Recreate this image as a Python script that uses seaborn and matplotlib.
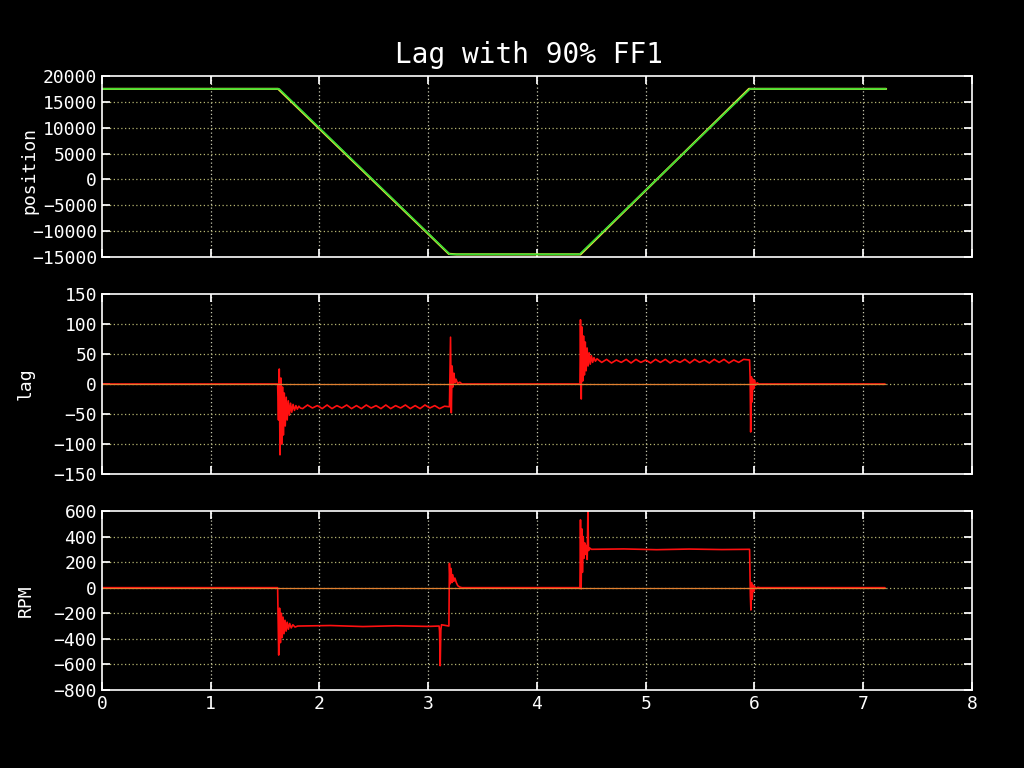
import matplotlib
matplotlib.use("Agg")
import matplotlib.pyplot as plt
import seaborn as sns

# ── Data ──────────────────────────────────────────────────────────────────────
pos_t = [0.0, 1.63, 3.20, 4.39, 5.96, 7.21]
pos_v = [17500, 17500, -14500, -14500, 17500, 17500]

cmd_t = [0.0, 1.62, 3.19, 3.26, 4.40, 5.95, 7.21]
cmd_v = [17500, 17500, -14400, -14500, -14500, 17500, 17500]

lag_t = [
    0.0, 1.615, 1.623, 1.630, 1.637, 1.645, 1.652, 1.660, 1.668, 1.676, 1.685,
    1.694, 1.703, 1.713, 1.723, 1.734, 1.745, 1.757, 1.770, 1.783, 1.796, 1.810,
    1.825,
    1.845, 1.890, 1.935, 1.980, 2.025, 2.070, 2.115, 2.160, 2.205, 2.250,
    2.295, 2.340, 2.385, 2.430, 2.475, 2.520, 2.565, 2.610, 2.655, 2.700, 2.745,
    2.790, 2.835, 2.880, 2.925, 2.970, 3.015, 3.060, 3.105, 3.150, 3.195,
    3.205, 3.212, 3.220, 3.228, 3.236, 3.245, 3.255, 3.270, 3.290, 3.310,
    4.395, 4.400, 4.407, 4.414, 4.421, 4.428, 4.436, 4.444, 4.452, 4.461, 4.470,
    4.480, 4.490, 4.501, 4.512, 4.524, 4.537, 4.552,
    4.595, 4.640, 4.685, 4.730, 4.775, 4.820, 4.865, 4.910, 4.955, 5.000,
    5.045, 5.090, 5.135, 5.180, 5.225, 5.270, 5.315, 5.360, 5.405, 5.450, 5.495,
    5.540, 5.585, 5.630, 5.675, 5.720, 5.765, 5.810, 5.855, 5.900, 5.955,
    5.960, 5.965, 5.972, 5.978, 5.985, 5.992, 6.000, 6.010, 6.025, 6.040, 7.20,
]
lag_v = [
    0, 0, -60, 25, -118, 10, -100, -5, -85, -15, -70,
    -22, -60, -28, -52, -32, -47, -34, -44, -36, -42, -37,
    -40,
    -41, -35, -40, -36, -41, -35, -41, -36, -40, -35,
    -41, -36, -41, -35, -40, -36, -41, -35, -41, -36, -40,
    -35, -41, -36, -41, -35, -40, -36, -41, -37, -38,
    78, -48, 30, -5, 18, 2, 8, 1, 3, 0,
    0, 107, -25, 95, 5, 80, 15, 70, 22, 60, 30,
    52, 33, 47, 36, 44, 38, 42,
    36, 41, 35, 40, 36, 41, 35, 41, 36, 40,
    35, 41, 36, 41, 35, 40, 36, 41, 35, 41, 36,
    40, 35, 41, 36, 41, 35, 40, 36, 41, 40,
    10, -80, 12, -30, 8, -8, 6, -2, 2, 0, 0,
]

rpm_t = [
    0.0, 1.615, 1.625, 1.633, 1.641, 1.649, 1.657, 1.665, 1.674, 1.683, 1.693,
    1.703, 1.714, 1.726, 1.740, 1.755, 1.775, 1.800,
    2.100, 2.400, 2.700, 3.000, 3.100, 3.104, 3.110, 3.116, 3.122, 3.190,
    3.195, 3.202, 3.210, 3.218, 3.226, 3.235, 3.245, 3.258, 3.272, 3.290, 3.310,
    4.395, 4.400, 4.406, 4.412, 4.418, 4.425, 4.432, 4.440, 4.447, 4.455, 4.462,
    4.468, 4.474, 4.485, 4.500,
    4.800, 5.100, 5.400, 5.700, 5.955,
    5.962, 5.967, 5.973, 5.979, 5.985, 5.992, 6.000, 6.015, 6.030, 6.050, 7.20,
]
rpm_v = [
    0, 0, -527, -160, -430, -200, -390, -230, -360, -255, -340,
    -270, -325, -280, -315, -290, -308, -300,
    -296, -304, -298, -303, -300, -340, -610, -330, -290, -300,
    190, 30, 150, 40, 100, 50, 75, 40, 15, 5, 0,
    0, 530, -10, 460, 120, 400, 230, 350, 260, 330, 220,
    600, 290, 310, 300,
    303, 297, 302, 298, 300,
    -60, -175, 40, -90, 20, -30, 10, -8, 3, 0, 0,
]

zero_t = [0.0, 7.2]
zero_v = [0, 0]

x_ticks = [0, 1, 2, 3, 4, 5, 6, 7, 8]
pos_ticks = [-15000, -10000, -5000, 0, 5000, 10000, 15000, 20000]
lag_ticks = [-150, -100, -50, 0, 50, 100, 150]
rpm_ticks = [-800, -600, -400, -200, 0, 200, 400, 600]

# ── Style ─────────────────────────────────────────────────────────────────────
sns.set_theme(style="ticks")
plt.rcParams.update({
    "figure.facecolor": "black",
    "axes.facecolor": "black",
    "axes.edgecolor": "white",
    "axes.linewidth": 1.2,
    "text.color": "white",
    "xtick.color": "white",
    "ytick.color": "white",
    "xtick.direction": "in",
    "ytick.direction": "in",
    "xtick.top": True,
    "ytick.right": True,
    "xtick.major.size": 6,
    "ytick.major.size": 6,
    "xtick.labelsize": 13,
    "ytick.labelsize": 13,
})
plt.rcParams["font.family"] = ["DejaVu Sans Mono", "DejaVu Sans"]

fig = plt.figure(figsize=(10.24, 7.68), dpi=100)
ax_pos = fig.add_axes([0.0996, 0.6654, 0.8496, 0.2357])
ax_lag = fig.add_axes([0.0996, 0.3828, 0.8496, 0.2344])
ax_rpm = fig.add_axes([0.0996, 0.1016, 0.8496, 0.2331])


def style_axis(ax, yticks, show_x):
    ax.set_xlim(0, 8)
    ax.set_ylim(yticks[0], yticks[-1])
    ax.set_xticks(x_ticks)
    ax.set_yticks(yticks)
    for x in x_ticks[1:-1]:
        ax.axvline(x, color="#c8c8b0", lw=0.9, ls=(0, (1, 2)), zorder=0)
    for y in yticks[1:-1]:
        ax.axhline(y, color="#b4b470", lw=0.9, ls=(0, (1, 2)), zorder=0)
    if not show_x:
        ax.set_xticklabels([])
    ax.set_xlabel("")
    ax.set_ylabel("")
    for s in ax.spines.values():
        s.set_color("white")
        s.set_visible(True)


sns.lineplot(x=cmd_t, y=cmd_v, ax=ax_pos, color="#e0e040", lw=1.6,
             sort=False, estimator=None)
sns.lineplot(x=pos_t, y=pos_v, ax=ax_pos, color="#33dd33", lw=1.1,
             sort=False, estimator=None)
style_axis(ax_pos, pos_ticks, False)

sns.lineplot(x=lag_t, y=lag_v, ax=ax_lag, color="#ff1010", lw=1.2,
             sort=False, estimator=None)
sns.lineplot(x=zero_t, y=zero_v, ax=ax_lag, color="#e08030", lw=0.9,
             sort=False, estimator=None)
style_axis(ax_lag, lag_ticks, False)

sns.lineplot(x=rpm_t, y=rpm_v, ax=ax_rpm, color="#ff1010", lw=1.2,
             sort=False, estimator=None)
sns.lineplot(x=zero_t, y=zero_v, ax=ax_rpm, color="#e08030", lw=0.9,
             sort=False, estimator=None)
style_axis(ax_rpm, rpm_ticks, True)

fig.text(0.517, 0.928, "Lag with 90% FF1", ha="center", va="center", fontsize=20)
fig.text(0.029, 0.778, "position", rotation=90, ha="center", va="center", fontsize=13)
fig.text(0.025, 0.500, "lag", rotation=90, ha="center", va="center", fontsize=13)
fig.text(0.025, 0.218, "RPM", rotation=90, ha="center", va="center", fontsize=13)

fig.savefig("out.png", dpi=100, facecolor="black")
